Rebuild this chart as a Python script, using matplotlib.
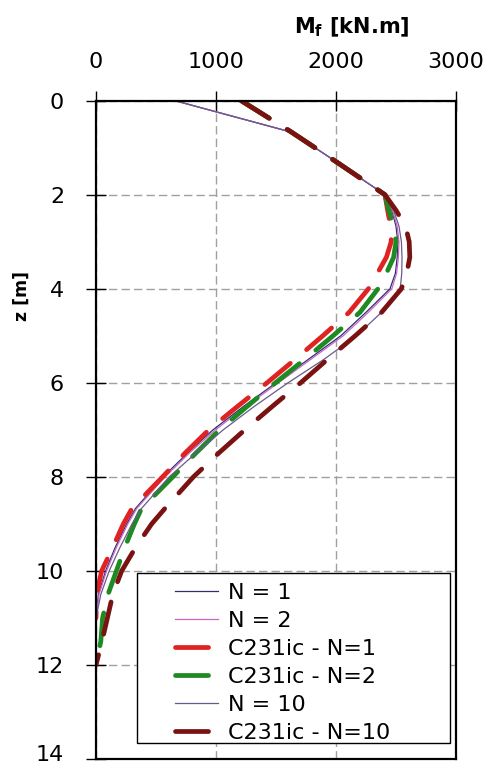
import numpy as np
import matplotlib
matplotlib.use("Agg")
import matplotlib.pyplot as plt
from matplotlib.patches import Rectangle
from matplotlib.transforms import ScaledTranslation

plt.rcParams['font.family'] = ['DejaVu Sans']

nan = np.nan
z = [0, 0.67, 1.33, 2, 2.33, 2.67, 3, 3.33, 3.67, 4, 4.5, 5, 5.5, 6, 6.5, 7,
     7.5, 8, 8.67, 9, 9.5, 10, 10.5, 11, 11.5, 12]

m_n1 = [658, 1630, 2020, 2408, 2465, 2500, 2515, 2510, 2495, 2450, 2250, 2040,
        1770, 1500, 1230, 975, 760, 560, 330, 255, 160, 80, 20, 0, nan, nan]
m_n2 = [658, 1630, 2020, 2408, 2470, 2510, 2525, 2520, 2505, 2465, 2270, 2060,
        1790, 1520, 1250, 995, 775, 575, 340, 265, 170, 88, 25, 0, nan, nan]
m_c1 = [1210, 1630, 2020, 2408, 2430, 2455, 2460, 2420, 2345, 2270, 2110, 1890,
        1660, 1425, 1180, 940, 740, 555, 300, 228, 140, 47, 5, 0, nan, nan]
m_c2 = [1210, 1630, 2020, 2408, 2440, 2480, 2500, 2480, 2420, 2350, 2200, 1975,
        1740, 1495, 1260, 1030, 830, 640, 380, 320, 240, 170, 100, 55, 40, 0]
m_n10 = [658, 1630, 2020, 2408, 2480, 2525, 2545, 2550, 2548, 2535, 2380, 2170,
         1900, 1600, 1320, 1060, 830, 610, 380, 300, 200, 110, 40, 0, nan, nan]
m_c10 = [1210, 1630, 2020, 2408, 2500, 2580, 2610, 2615, 2590, 2545, 2380, 2160,
         1930, 1705, 1470, 1240, 1020, 812, 575, 464, 330, 214, 140, 95, 50, 0]

labels = ["N = 1", "N = 2", "C231ic - N=1", "C231ic - N=2", "N = 10", "C231ic - N=10"]
x_ticks = [0, 1000, 2000, 3000]
z_ticks = [0, 2, 4, 6, 8, 10, 12, 14]

fig = plt.figure(figsize=(4.89, 7.69), dpi=100)
ax = fig.add_axes([96/489, 10/769, 360/489, 658.3/769])

thin = dict(lw=0.9)
thick = dict(lw=3.4, dashes=(7, 4.5), dash_capstyle='round')

ax.plot(m_n1, z, color='#2e2e6e', label=labels[0], **thin)
ax.plot(m_n2, z, color='#c866c8', label=labels[1], **thin)
ax.plot(m_c1, z, color='#e02222', label=labels[2], **thick)
ax.plot(m_c2, z, color='#1e8a22', label=labels[3], **thick)
ax.plot(m_n10, z, color='#6a5a8a', label=labels[4], **thin)
ax.plot(m_c10, z, color='#7a1212', label=labels[5], **thick)

ax.set_xlim(0, 3000)
ax.set_ylim(14, 0)
ax.set_xticks(x_ticks)
ax.set_yticks(z_ticks)
ax.xaxis.tick_top()
ax.tick_params(axis='both', direction='inout', length=14, width=1,
               labelsize=16, colors='black')
ax.tick_params(axis='x', pad=14)
ax.tick_params(axis='y', pad=16)
ax.grid(True, color='#a0a0a0', lw=1, dashes=(6, 3))
for s in ax.spines.values():
    s.set_linewidth(1.6)

# nudge the bottom-most z label up a little so it stays inside the figure
last = ax.yaxis.get_major_ticks()[-1].label1
last.set_transform(last.get_transform() +
                   ScaledTranslation(0, 4/72, fig.dpi_scale_trans))

ax.text(0.711, 1.112, r'M$_\mathbf{f}$ [kN.m]', transform=ax.transAxes,
        ha='center', va='center', fontsize=15, fontweight='bold')
ax.text(-0.205, 0.703, 'z [m]', transform=ax.transAxes, rotation=90,
        ha='center', va='center', fontsize=12.5, fontweight='bold')

rect = Rectangle((0.113, 0.024), 0.87, 0.259, transform=ax.transAxes,
                 facecolor='white', edgecolor='black', lw=1.0, zorder=4)
ax.add_patch(rect)
leg = ax.legend(loc='upper left', bbox_to_anchor=(0.219, 0.268), frameon=False,
                borderpad=0, borderaxespad=0, handlelength=1.94,
                handletextpad=0.45, labelspacing=0.36, fontsize=16)
leg.set_zorder(5)

fig.savefig('out.png', dpi=100)
